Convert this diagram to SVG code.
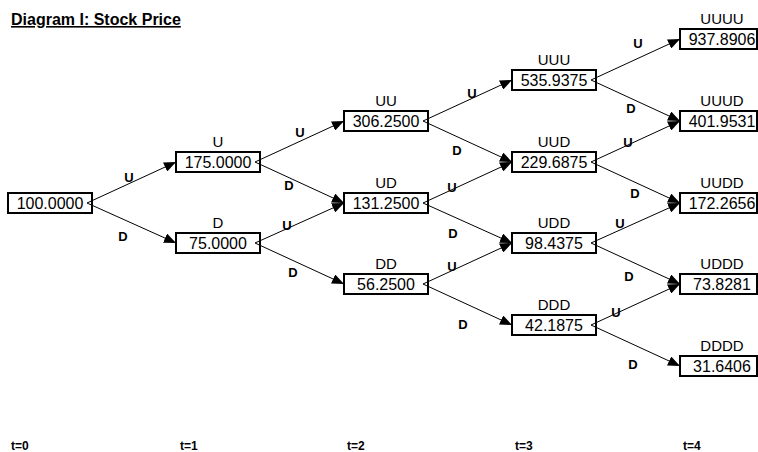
<svg xmlns="http://www.w3.org/2000/svg" width="758" height="452" viewBox="0 0 758 452">
<style>
  .box{fill:#fff;stroke:#000;stroke-width:2}
  .num{font-family:"Liberation Sans",Arial,sans-serif;font-size:16px;text-anchor:middle;fill:#000}
  .lbl{font-family:"Liberation Sans",Arial,sans-serif;font-size:15px;text-anchor:middle;fill:#000}
  .el{font-family:"Liberation Sans",Arial,sans-serif;font-size:13px;font-weight:bold;text-anchor:middle;fill:#000}
  .t{font-family:"Liberation Sans",Arial,sans-serif;font-size:12px;font-weight:bold;fill:#000}
  .title{font-family:"Liberation Sans",Arial,sans-serif;font-size:16px;font-weight:bold;text-decoration:underline;fill:#000}
  .edge{stroke:#000;stroke-width:1;fill:none;marker-end:url(#ah)}
</style>
<defs>
  <marker id="ah" markerUnits="userSpaceOnUse" markerWidth="12" markerHeight="10" refX="12" refY="5" orient="auto">
    <path d="M0,0 L12,5 L0,10 z" fill="#000"/>
  </marker>
</defs>
<rect x="0" y="0" width="758" height="452" fill="#fff"/>
<text class="title" x="11" y="25">Diagram I: Stock Price</text>

<g id="n0"><rect class="box" x="8" y="193" width="84" height="20"/><text class="num" x="50" y="209">100.0000</text></g>
<g id="nU"><text class="lbl" x="218" y="147">U</text><rect class="box" x="176" y="152" width="84" height="20"/><text class="num" x="218" y="168">175.0000</text></g>
<g id="nD"><text class="lbl" x="218" y="228">D</text><rect class="box" x="176" y="233" width="84" height="20"/><text class="num" x="218" y="249">75.0000</text></g>
<g id="nUU"><text class="lbl" x="386" y="106">UU</text><rect class="box" x="344" y="111" width="84" height="20"/><text class="num" x="386" y="127">306.2500</text></g>
<g id="nUD"><text class="lbl" x="386" y="188">UD</text><rect class="box" x="344" y="193" width="84" height="20"/><text class="num" x="386" y="209">131.2500</text></g>
<g id="nDD"><text class="lbl" x="386" y="269">DD</text><rect class="box" x="344" y="274" width="84" height="20"/><text class="num" x="386" y="290">56.2500</text></g>
<g id="nUUU"><text class="lbl" x="554" y="65">UUU</text><rect class="box" x="512" y="70" width="84" height="20"/><text class="num" x="554" y="86">535.9375</text></g>
<g id="nUUD"><text class="lbl" x="554" y="147">UUD</text><rect class="box" x="512" y="152" width="84" height="20"/><text class="num" x="554" y="168">229.6875</text></g>
<g id="nUDD"><text class="lbl" x="554" y="228">UDD</text><rect class="box" x="512" y="233" width="84" height="20"/><text class="num" x="554" y="249">98.4375</text></g>
<g id="nDDD"><text class="lbl" x="554" y="310">DDD</text><rect class="box" x="512" y="315" width="84" height="20"/><text class="num" x="554" y="331">42.1875</text></g>
<g id="nUUUU"><text class="lbl" x="722" y="24">UUUU</text><rect class="box" x="680" y="29" width="77" height="20"/><text class="num" x="722" y="45">937.8906</text></g>
<g id="nUUUD"><text class="lbl" x="722" y="106">UUUD</text><rect class="box" x="680" y="111" width="77" height="20"/><text class="num" x="722" y="127">401.9531</text></g>
<g id="nUUDD"><text class="lbl" x="722" y="188">UUDD</text><rect class="box" x="680" y="193" width="77" height="20"/><text class="num" x="722" y="209">172.2656</text></g>
<g id="nUDDD"><text class="lbl" x="722" y="269">UDDD</text><rect class="box" x="680" y="274" width="77" height="20"/><text class="num" x="722" y="290">73.8281</text></g>
<g id="nDDDD"><text class="lbl" x="722" y="351">DDDD</text><rect class="box" x="680" y="356" width="77" height="20"/><text class="num" x="722" y="372">31.6406</text></g>

<g id="connectors">
  <line class="edge" x1="87" y1="203" x2="176" y2="162"/>
  <line class="edge" x1="87" y1="203" x2="176" y2="243"/>
  <line class="edge" x1="255" y1="162" x2="344" y2="121"/>
  <line class="edge" x1="255" y1="162" x2="344" y2="203"/>
  <line class="edge" x1="255" y1="243" x2="344" y2="203"/>
  <line class="edge" x1="255" y1="243" x2="344" y2="284"/>
  <line class="edge" x1="423" y1="121" x2="512" y2="80"/>
  <line class="edge" x1="423" y1="121" x2="512" y2="162"/>
  <line class="edge" x1="423" y1="203" x2="512" y2="162"/>
  <line class="edge" x1="423" y1="203" x2="512" y2="243"/>
  <line class="edge" x1="423" y1="284" x2="512" y2="243"/>
  <line class="edge" x1="423" y1="284" x2="512" y2="325"/>
  <line class="edge" x1="591" y1="80" x2="680" y2="39"/>
  <line class="edge" x1="591" y1="80" x2="680" y2="121"/>
  <line class="edge" x1="591" y1="162" x2="680" y2="121"/>
  <line class="edge" x1="591" y1="162" x2="680" y2="203"/>
  <line class="edge" x1="591" y1="243" x2="680" y2="203"/>
  <line class="edge" x1="591" y1="243" x2="680" y2="284"/>
  <line class="edge" x1="591" y1="325" x2="680" y2="284"/>
  <line class="edge" x1="591" y1="325" x2="680" y2="366"/>
  <text class="el" x="129" y="182">U</text>
  <text class="el" x="123" y="241">D</text>
  <text class="el" x="300" y="137">U</text>
  <text class="el" x="289" y="190">D</text>
  <text class="el" x="287" y="230">U</text>
  <text class="el" x="293" y="277">D</text>
  <text class="el" x="472" y="98">U</text>
  <text class="el" x="457" y="155">D</text>
  <text class="el" x="452" y="192">U</text>
  <text class="el" x="453" y="238">D</text>
  <text class="el" x="452" y="271">U</text>
  <text class="el" x="463" y="329">D</text>
  <text class="el" x="638" y="48">U</text>
  <text class="el" x="631" y="113">D</text>
  <text class="el" x="628" y="147">U</text>
  <text class="el" x="635" y="198">D</text>
  <text class="el" x="620" y="228">U</text>
  <text class="el" x="629" y="281">D</text>
  <text class="el" x="616" y="317">U</text>
  <text class="el" x="633" y="369">D</text>
</g>

<text class="t" x="11" y="450">t=0</text>
<text class="t" x="180" y="450">t=1</text>
<text class="t" x="347" y="450">t=2</text>
<text class="t" x="515" y="450">t=3</text>
<text class="t" x="683" y="450">t=4</text>
</svg>
